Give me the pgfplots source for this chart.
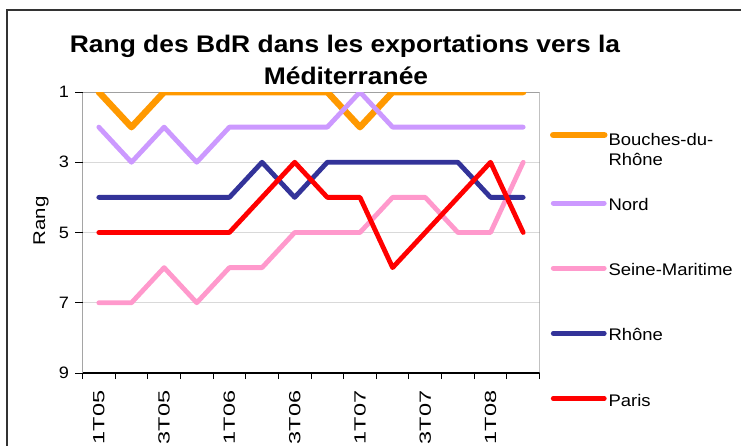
\documentclass[border=0pt]{standalone}
\usepackage{fontspec}
\setmainfont{Liberation Sans}[FakeStretch=1.1]
\newfontfamily\xlabfont{Liberation Sans}[FakeStretch=1.45]
\newfontfamily\ylabfont{Liberation Sans}[FakeStretch=1.2]
\usepackage{pgfplots}
\pgfplotsset{compat=1.18}
\definecolor{cBdR}{HTML}{FF9900}
\definecolor{cNord}{HTML}{CC99FF}
\definecolor{cSM}{HTML}{FF99CC}
\definecolor{cRh}{HTML}{333399}
\definecolor{cPa}{HTML}{FF0000}
\definecolor{gridc}{HTML}{D9D9D9}
\definecolor{borderc}{HTML}{A0A0A0}
\newcommand\ls{\rule[-5pt]{0pt}{17pt}}
\pgfplotsset{
  stdimg/.style={legend image code/.code={\draw[##1] (0pt,2.3pt) -- (51pt,2.3pt);}},
  bdrimg/.style={legend image code/.code={\draw[##1] (0pt,5.5pt) -- (51pt,5.5pt);}},
}
\begin{document}
\begin{tikzpicture}[x=1pt,y=1pt]
\path[use as bounding box] (0,0) rectangle (741,446);
\draw[line width=1.5pt, black!80] (7,436) rectangle (760,-20);
\node[anchor=base, font=\bfseries\fontsize{24}{28}\selectfont] at (345,393.7) {Rang des BdR dans les exportations vers la};
\node[anchor=base, font=\bfseries\fontsize{24}{28}\selectfont] at (346,361) {Méditerranée};
\begin{axis}[
  at={(82.5pt,73pt)}, anchor=south west,
  scale only axis, width=457pt, height=281pt,
  xmin=-0.5, xmax=13.5, ymin=1, ymax=9, y dir=reverse,
  axis line style={draw=none},
  xtick={0,2,...,12},
  xticklabels={1T05,3T05,1T06,3T06,1T07,3T07,1T08},
  minor xtick={-0.5,0.5,...,13.5},
  major x tick style={draw=none},
  minor tick length=6pt,
  ytick={1,3,5,7,9},
  major tick length=7pt,
  tick align=outside,
  tick pos=left,
  tick style={black, line width=1pt},
  ymajorgrids, grid style={gridc, line width=1pt},
  /pgf/number format/assume math mode=true,
  yticklabel style={font=\fontsize{16.5}{18}\selectfont},
  yticklabel shift=3pt,
  xticklabel style={font=\xlabfont\fontsize{16.2}{18}\selectfont, rotate=90, anchor=east},
  xticklabel shift=7pt,
  ylabel={Rang},
  ylabel style={font=\ylabfont\fontsize{17}{19}\selectfont, at={(axis description cs:-0.0908,0.541)}, anchor=center},
  legend style={at={(axis description cs:1.023,0.8587)}, anchor=north west,
    draw=none, fill=none, inner sep=0pt, outer sep=0pt,
    font=\fontsize{16.8}{20}\selectfont,
    nodes={inner sep=1pt}, row sep=49.4pt, column sep=0pt},
  legend cell align=left,
  every axis plot/.append style={line join=round, line cap=round},
  stdimg,
]
\draw[borderc, line width=2pt] (axis description cs:0,1) -- (axis description cs:1,1) -- (axis description cs:1,0);
\draw[black, line width=1.3pt] (axis description cs:0,1) -- (axis description cs:0,0) -- (axis description cs:1,0);
\addplot[cBdR, line width=6.5pt, bdrimg] coordinates {(0,1) (1,2) (2,1) (3,1) (4,1) (5,1) (6,1) (7,1) (8,2) (9,1) (10,1) (11,1) (12,1) (13,1)};
\addlegendentry{\ls\smash{\begin{tabular}[t]{@{}l@{}}Bouches-du-\\Rhône\end{tabular}}}
\addplot[cNord, line width=4.8pt] coordinates {(0,2) (1,3) (2,2) (3,3) (4,2) (5,2) (6,2) (7,2) (8,1) (9,2) (10,2) (11,2) (12,2) (13,2)};
\addlegendentry{\ls Nord}
\addplot[cSM, line width=4.8pt] coordinates {(0,7) (1,7) (2,6) (3,7) (4,6) (5,6) (6,5) (7,5) (8,5) (9,4) (10,4) (11,5) (12,5) (13,3)};
\addlegendentry{\ls Seine-Maritime}
\addplot[cRh, line width=4.8pt] coordinates {(0,4) (1,4) (2,4) (3,4) (4,4) (5,3) (6,4) (7,3) (8,3) (9,3) (10,3) (11,3) (12,4) (13,4)};
\addlegendentry{\ls Rhône}
\addplot[cPa, line width=4.8pt] coordinates {(0,5) (1,5) (2,5) (3,5) (4,5) (5,4) (6,3) (7,4) (8,4) (9,6) (10,5) (11,4) (12,3) (13,5)};
\addlegendentry{\ls Paris}
\end{axis}
\end{tikzpicture}
\end{document}
